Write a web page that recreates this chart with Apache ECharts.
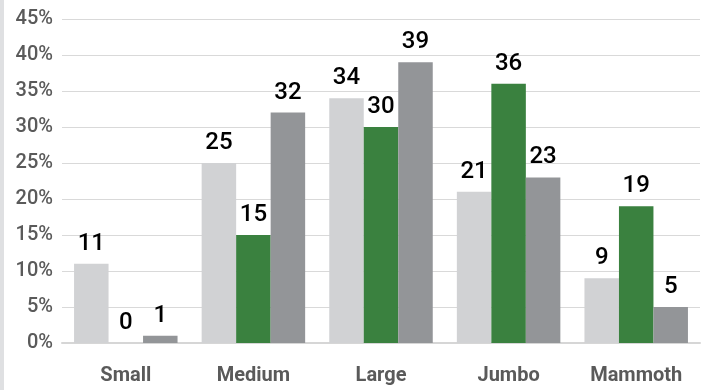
<!DOCTYPE html>
<html>
<head>
<meta charset="utf-8">
<script src="https://cdn.jsdelivr.net/npm/echarts@6/dist/echarts.min.js"></script>
<style>
  html, body { margin: 0; padding: 0; background: #fff; }
  #chart { width: 707px; height: 390px; }
</style>
</head>
<body>
<div id="chart"></div>
<script>
// Size classes and the share (%) for each of the three series
var categories = ['Small', 'Medium', 'Large', 'Jumbo', 'Mammoth'];
var seriesLight = [11, 25, 34, 21, 9];
var seriesGreen = [0, 15, 30, 36, 19];
var seriesDark = [1, 32, 39, 23, 5];
var yTicks = [0, 5, 10, 15, 20, 25, 30, 35, 40, 45];

// Prefer a narrow face for the category names when one is installed
function hasFont(name) {
  var c = document.createElement('canvas').getContext('2d');
  var probe = 'Small Medium Mammoth 0123456789';
  c.font = 'bold 22px monospace';
  var base = c.measureText(probe).width;
  c.font = 'bold 22px "' + name + '", monospace';
  return c.measureText(probe).width !== base;
}
var narrow = hasFont('Liberation Sans Narrow');
var catFont = narrow ? '"Liberation Sans Narrow", Roboto, sans-serif' : 'Roboto, sans-serif';
var catSize = narrow ? 22 : 20;

var chart = echarts.init(document.getElementById('chart'), null, { renderer: 'canvas' });

var labelStyle = {
  show: true,
  position: 'top',
  distance: 8,
  color: '#000',
  fontFamily: 'Roboto, "Liberation Sans", Arial, sans-serif',
  fontSize: 24,
  fontWeight: 500
};

function barSeries(name, data, color) {
  return {
    name: name,
    type: 'bar',
    data: data,
    barWidth: 34.5,
    barGap: '0%',
    itemStyle: { color: color },
    label: labelStyle,
    animation: false
  };
}

chart.setOption({
  animation: false,
  backgroundColor: '#fff',
  graphic: [{
    type: 'rect',
    left: 0, top: 0,
    shape: { width: 4, height: 390 },
    style: { fill: '#dfe0e2' },
    silent: true
  }],
  grid: { left: 62, right: 7, top: 19, bottom: 47, containLabel: false },
  xAxis: {
    type: 'category',
    data: categories,
    axisLine: { show: true, lineStyle: { color: '#d6d6d6', width: 2 } },
    axisTick: { show: false },
    axisLabel: {
      margin: 23,
      color: '#5a5a5a',
      fontFamily: catFont,
      fontWeight: 'bold',
      fontSize: catSize
    }
  },
  yAxis: {
    type: 'value',
    min: yTicks[0],
    max: yTicks[yTicks.length - 1],
    interval: 5,
    axisLine: { show: false },
    axisTick: { show: false },
    splitLine: { lineStyle: { color: '#d9d9d9', width: 1 } },
    axisLabel: {
      margin: 9,
      color: '#5a5a5a',
      fontFamily: 'Roboto, sans-serif',
      fontWeight: 500,
      fontSize: 20,
      formatter: function (v) { return v + '%'; }
    }
  },
  series: [
    barSeries('A', seriesLight, '#d1d2d4'),
    barSeries('B', seriesGreen, '#3a813f'),
    barSeries('C', seriesDark, '#939598')
  ]
});
</script>
</body>
</html>
